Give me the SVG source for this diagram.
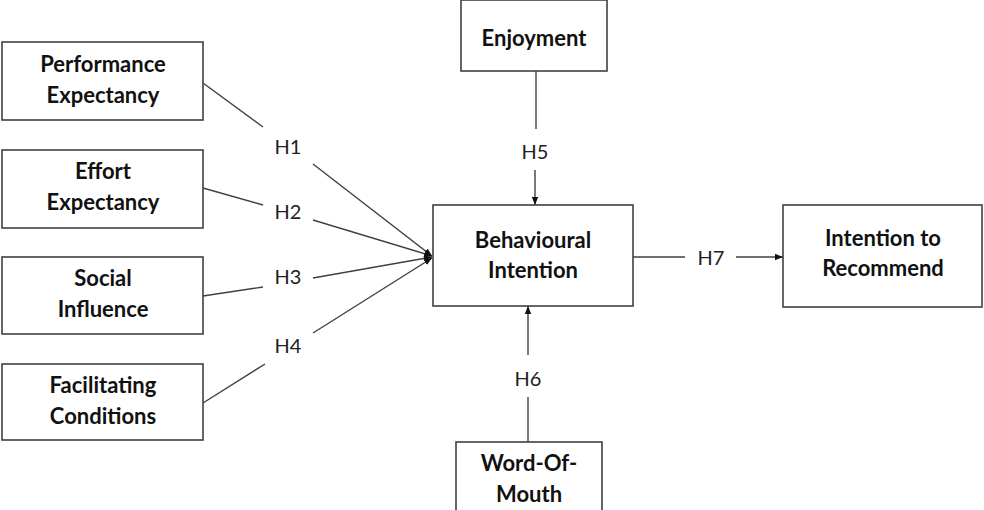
<svg xmlns="http://www.w3.org/2000/svg" width="984" height="510" viewBox="0 0 984 510">
<style>
.box{fill:#fff;stroke:#404040;stroke-width:1.6}
.t{font-family:Lato,"Liberation Sans",sans-serif;font-weight:bold;font-size:22px;fill:#111;text-anchor:middle}
.h{font-family:Lato,"Liberation Sans",sans-serif;font-size:20px;fill:#222;text-anchor:middle}
.c{stroke:#404040;stroke-width:1.4;fill:none}
</style>
<defs>
<marker id="a" viewBox="0 0 10 10" refX="10" refY="5" markerWidth="8" markerHeight="8" markerUnits="userSpaceOnUse" orient="auto">
<path d="M0,1 L10,5 L0,9 z" fill="#111"/>
</marker>
</defs>
<rect width="984" height="510" fill="#fff"/>
<g id="connectors">
<line class="c" x1="203" y1="83" x2="263" y2="127"/>
<line class="c" x1="313" y1="164" x2="432" y2="256" marker-end="url(#a)"/>
<line class="c" x1="203" y1="188" x2="263" y2="205"/>
<line class="c" x1="313" y1="220" x2="432" y2="256" marker-end="url(#a)"/>
<line class="c" x1="203" y1="296" x2="263" y2="287"/>
<line class="c" x1="313" y1="278" x2="432" y2="257" marker-end="url(#a)"/>
<line class="c" x1="203" y1="403" x2="265" y2="364"/>
<line class="c" x1="313" y1="333" x2="432" y2="258" marker-end="url(#a)"/>
<line class="c" x1="536" y1="71" x2="536" y2="129"/>
<line class="c" x1="535" y1="170" x2="535" y2="205" marker-end="url(#a)"/>
<line class="c" x1="528" y1="442" x2="528" y2="397"/>
<line class="c" x1="528" y1="355" x2="528" y2="306" marker-end="url(#a)"/>
<line class="c" x1="633" y1="257" x2="685" y2="257"/>
<line class="c" x1="736" y1="257" x2="783" y2="257" marker-end="url(#a)"/>
<text class="h" x="288" y="154">H1</text>
<text class="h" x="288" y="219">H2</text>
<text class="h" x="288" y="284">H3</text>
<text class="h" x="288" y="353">H4</text>
<text class="h" x="535" y="159">H5</text>
<text class="h" x="528" y="386">H6</text>
<text class="h" x="711" y="265">H7</text>
</g>
<g id="pe"><rect class="box" x="2" y="42" width="201" height="78"/><text class="t" x="103" y="72">Performance</text><text class="t" x="103" y="103">Expectancy</text></g>
<g id="ee"><rect class="box" x="2" y="150" width="201" height="78"/><text class="t" x="103" y="179">Effort</text><text class="t" x="103" y="210">Expectancy</text></g>
<g id="si"><rect class="box" x="2" y="257" width="201" height="77"/><text class="t" x="103" y="286">Social</text><text class="t" x="103" y="317">Influence</text></g>
<g id="fc"><rect class="box" x="2" y="364" width="201" height="76"/><text class="t" x="103" y="393">Facilitating</text><text class="t" x="103" y="424">Conditions</text></g>
<g id="enj"><rect class="box" x="461" y="0" width="146" height="71"/><text class="t" x="534" y="46">Enjoyment</text></g>
<g id="bi"><rect class="box" x="433" y="205" width="200" height="101"/><text class="t" x="533" y="248">Behavioural</text><text class="t" x="533" y="278">Intention</text></g>
<g id="wom"><rect class="box" x="456" y="442" width="146" height="80"/><text class="t" x="529" y="471">Word-Of-</text><text class="t" x="529" y="502">Mouth</text></g>
<g id="itr"><rect class="box" x="783" y="205" width="199" height="102"/><text class="t" x="883" y="246">Intention to</text><text class="t" x="883" y="276">Recommend</text></g>
</svg>
